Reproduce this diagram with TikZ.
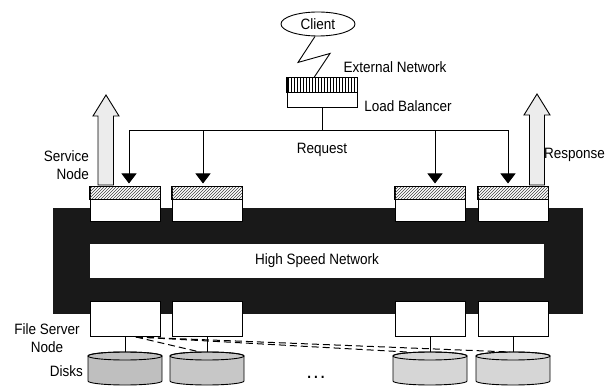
\documentclass[tikz,border=0pt]{standalone}
\usepackage{fontspec}
\setmainfont[FakeStretch=0.9]{Liberation Sans}
\usetikzlibrary{patterns,arrows.meta,calc,shapes.geometric}
\tikzset{
  lbl/.style={font=\fontsize{15}{18}\selectfont, inner sep=0pt},
  nodebox/.style={draw, line width=1pt, fill=white, minimum width=70pt, minimum height=35pt, inner sep=0pt},
  uparrow/.style={draw, line width=0.9pt, fill=gray!15, line join=miter},
  req/.style={line width=1pt, -{Triangle[width=15pt,length=10pt]}, shorten >=3pt},
  wire/.style={line width=0.9pt},
  dashline/.style={line width=1pt, dash pattern=on 7pt off 4pt}
}
\begin{document}
\begin{tikzpicture}[x=1pt, y=-1pt]
\useasboundingbox (0,0) rectangle (616,387);

% client and load balancer
\node[draw, ellipse, line width=0.9pt, minimum width=74pt, minimum height=24pt, lbl] (client) at (318,24) {Client};
\node[nodebox, minimum height=30pt] (lb) at (322,93) {};
\draw[line width=1pt, pattern=vertical lines] (lb.north west) rectangle ([yshift=-15pt]lb.north east);
\draw[wire] ([xshift=-3pt]client.south) -- ++(-17,26) -- ++(32,-9) -- ([xshift=-8pt]lb.north);

\node[lbl] (extnet) at (395,67) {External Network};
\node[lbl] (lbtxt) at (408,106) {Load Balancer};
\node[lbl] (req) at (322,150) {Request};
\node[lbl, anchor=east, align=right] (svc) at (89,165) {Service\\Node};
\node[lbl, anchor=west] (resp) at (544,155) {Response};

% high speed network band
\node[fill=black!90, minimum width=530pt, minimum height=106pt, inner sep=0pt] (band) at (318,261) {};
\node[fill=white, minimum width=454pt, minimum height=34pt, lbl] (hsn) at (317,261) {High Speed Network};

% service nodes and file server nodes
\foreach \n/\x in {1/125,2/207,3/430,4/513} {
  \node[nodebox] (sn\n) at (\x,204.5) {};
  \draw[line width=1pt, pattern=north east lines, pattern color=black!75] (sn\n.north west) rectangle ([yshift=-13pt]sn\n.north east);
  \node[nodebox, minimum height=35pt] (fs\n) at (\x,319) {};
}

% up arrows
\draw[uparrow] (98,185) -- (98,116) -- (93,116) -- (106,95) -- (119,116) -- (113.5,116) -- (113.5,185) -- cycle;
\draw[uparrow] (529.5,185) -- (529.5,115) -- (524,115) -- (537,94) -- (550,115) -- (544.5,115) -- (544.5,185) -- cycle;

% request distribution
\coordinate (bus) at (322,131);
\draw[wire] (lb.south) -- (bus);
\draw[req] (bus) -| ([xshift=4pt]sn1.north);
\draw[req] (bus) -| ([xshift=-4pt]sn2.north);
\draw[req] (bus) -| ([xshift=5pt]sn3.north);
\draw[req] (bus) -| ([xshift=-5pt]sn4.north);

% disks
\foreach \n/\x/\c in {1/125/50,2/207/44,3/430/32,4/513/32} {
  \filldraw[line width=0.9pt, fill=gray!\c] (\x-37,356) -- (\x-37,381) arc[start angle=180,end angle=360,x radius=37pt,y radius=4pt] -- (\x+37,356) arc[start angle=0,end angle=180,x radius=37pt,y radius=4pt] -- cycle;
  \draw[line width=0.9pt] (\x,356) ellipse [x radius=37pt, y radius=4pt];
  \coordinate (dt\n) at (\x,352);
  \draw[wire] (fs\n.south) -- (dt\n);
}

\draw[dashline] ([xshift=11pt]fs1.south) -- ([xshift=-7pt]dt2);
\draw[dashline] ([xshift=11pt]fs1.south) -- ([xshift=-23pt]dt3);
\draw[dashline] ([xshift=11pt]fs1.south) -- ([xshift=-3pt]dt4);

\node[lbl, align=center] (fsn) at (47,338) {File Server\\Node};
\node[lbl, anchor=east] (disks) at (83,371) {Disks};
\node[lbl, font=\fontsize{15}{18}\selectfont\bfseries] (dots) at (316,377) {.\hspace{3pt}.\hspace{3pt}.};
\end{tikzpicture}
\end{document}
